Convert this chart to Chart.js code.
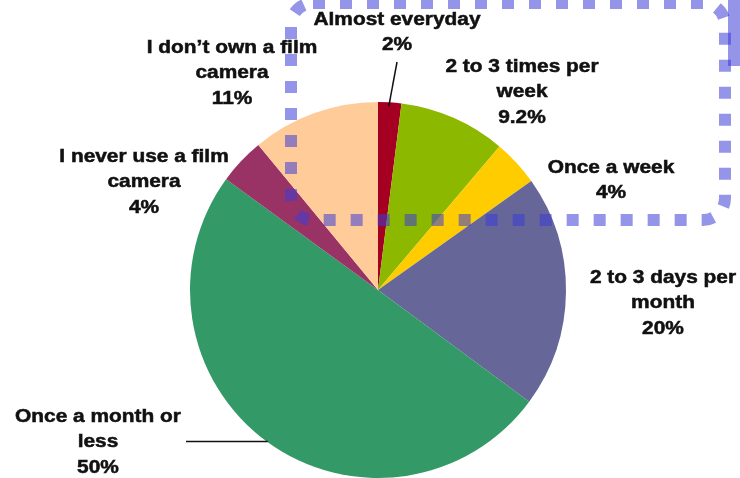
<!DOCTYPE html>
<html>
<head>
<meta charset="utf-8">
<script src="https://cdn.jsdelivr.net/npm/chart.js@4/dist/chart.umd.min.js"></script>
<style>
  html, body { margin: 0; padding: 0; background: #fff; }
  #wrap { width: 740px; height: 478px; }
</style>
</head>
<body>
<div id="wrap"><canvas id="film-chart" width="740" height="478"></canvas></div>
<script>
// categories, clockwise from 12 o'clock
var categories = [
    ['Almost everyday'],
    ['2 to 3 times per', 'week'],
    ['Once a week'],
    ['2 to 3 days per', 'month'],
    ['Once a month or', 'less'],
    ['I never use a film', 'camera'],
    ['I don\u2019t own a film', 'camera']
];
var shares = [2, 9.2, 4, 20, 50, 4, 11];
var sliceColors = ['#a50021', '#8cb800', '#ffcc00', '#666699', '#339966', '#993366', '#ffcc99'];

// label anchors, offset from pie centre (first text line)
var labelOffsets = [
    [19, -270], [144, -223], [233, -122], [285, -12],
    [-280, 127], [-234, -133], [-146, -242]
];

( function() {

    var lineGap = 25.5;

    // data labels + leader lines
    var pieLabels = {
        id: 'pieLabels',
        afterDatasetsDraw: function( chart ) {
            var ctx = chart.ctx;
            var arcs = chart.getDatasetMeta( 0 ).data;

            ctx.save();
            // leader lines
            ctx.strokeStyle = '#111';
            ctx.lineWidth = 1.5;
            arcs.forEach( function( arc, i ) {
                var mid = ( arc.startAngle + arc.endAngle ) / 2;
                var ex = arc.x + Math.cos( mid ) * arc.outerRadius;
                var ey = arc.y + Math.sin( mid ) * arc.outerRadius;
                if ( i === 0 ) {
                    ctx.beginPath();
                    ctx.moveTo( ex - 1, ey + 4 );
                    ctx.lineTo( arc.x + 19, arc.y - 228 );
                    ctx.stroke();
                } else if ( i === 4 ) {
                    ctx.beginPath();
                    ctx.moveTo( ex + 1, ey );
                    ctx.lineTo( arc.x - 192, ey );
                    ctx.stroke();
                }
            } );

            // label text
            ctx.fillStyle = '#111';
            ctx.strokeStyle = '#111';
            ctx.lineWidth = 0.5;
            ctx.font = 'bold 18px "Liberation Sans", Arial, sans-serif';
            ctx.textAlign = 'center';
            ctx.textBaseline = 'middle';
            arcs.forEach( function( arc, i ) {
                var lines = categories[i].concat( [ shares[i] + '%' ] );
                var x = arc.x + labelOffsets[i][0];
                var y = arc.y + labelOffsets[i][1];
                lines.forEach( function( txt, k ) {
                    ctx.save();
                    ctx.translate( x, y + k * lineGap );
                    ctx.scale( 1.16, 1 );
                    ctx.fillText( txt, 0, 0 );
                    ctx.strokeText( txt, 0, 0 );
                    ctx.restore();
                } );
            } );
            ctx.restore();
        }
    };

    // dotted callout box drawn over the pie
    var dottedBox = {
        id: 'dottedBox',
        afterDraw: function( chart ) {
            var ctx = chart.ctx;
            ctx.save();
            ctx.strokeStyle = 'rgba(60, 60, 215, 0.55)';
            ctx.lineWidth = 12;
            ctx.setLineDash( [ 12, 15 ] );
            ctx.beginPath();
            ctx.roundRect( 291, 3, 434, 217, 22 );
            ctx.stroke();
            // edge of a second box peeking in at the top right
            ctx.fillStyle = 'rgba(60, 60, 215, 0.55)';
            ctx.fillRect( 728, 0, 12, 66 );
            ctx.restore();
        }
    };

    var canvas = document.getElementById( 'film-chart' );

    new Chart( canvas, {
        type: 'pie',
        data: {
            labels: categories,
            datasets: [ {
                data: shares,
                backgroundColor: sliceColors,
                borderWidth: 0
            } ]
        },
        options: {
            responsive: false,
            animation: false,
            layout: {
                padding: { top: 102, bottom: 0, left: 190, right: 174 }
            },
            plugins: {
                legend: { display: false },
                tooltip: { enabled: false }
            }
        },
        plugins: [ pieLabels, dottedBox ]
    } );

} )();
</script>
</body>
</html>
